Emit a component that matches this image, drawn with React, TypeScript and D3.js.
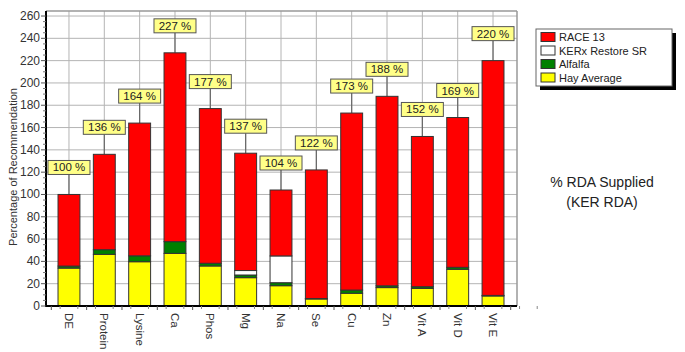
import React from "react";
import * as d3 from "d3";

const categories = ["DE", "Protein", "Lysine", "Ca", "Phos", "Mg", "Na", "Se", "Cu", "Zn", "Vit A", "Vit D", "Vit E"];
const hayAverage = [34, 46.3, 39.7, 47.2, 35.9, 25.4, 18.2, 6.3, 11.4, 16.5, 15.8, 32.9, 9];
const alfalfa = [1.8, 4.2, 5.3, 10.5, 2.4, 2.4, 2.7, 0.4, 2.9, 1.6, 1.5, 1.8, 0.5];
const kerxRestore = [0, 0, 0, 0, 0, 4, 24, 0, 0, 0, 0, 0, 0];
const race13 = [64.2, 85.5, 119, 169.3, 138.7, 105.2, 59.1, 115.3, 158.7, 169.9, 134.7, 134.3, 210.5];
const totalLabels = [100, 136, 164, 227, 177, 137, 104, 122, 173, 188, 152, 169, 220];
const yTicks = d3.range(0, 261, 20);

const seriesKeys = ["hay", "alfalfa", "kerx", "race"];
const seriesNames: Record<string, string> = {
  race: "RACE 13",
  kerx: "KERx Restore SR",
  alfalfa: "Alfalfa",
  hay: "Hay Average",
};
const seriesColors: Record<string, string> = {
  race: "#ff0000",
  kerx: "#ffffff",
  alfalfa: "#008000",
  hay: "#ffff00",
};
const legendOrder = ["race", "kerx", "alfalfa", "hay"];

const FONT = "'Liberation Sans', Arial, sans-serif";

export default function App() {
  const W = 685, H = 352;
  const left = 46, right = 517, top = 11, bottom = 306;

  const rows = categories.map((c, i) => ({
    cat: c,
    hay: hayAverage[i],
    alfalfa: alfalfa[i],
    kerx: kerxRestore[i],
    race: race13[i],
    total: totalLabels[i],
  }));

  const x = d3.scaleBand<string>().domain(categories).range([51.3, 510.7]).paddingInner(0.38).paddingOuter(0.19);
  const y = d3.scaleLinear().domain([0, 264.5]).range([bottom, top]);
  const stacked = d3.stack<any>().keys(seriesKeys)(rows);

  const bw = x.bandwidth();
  const step = x.step();
  const minorY = d3.range(0, 261, 5).filter((v) => v % 20 !== 0);

  return (
    <svg width={W} height={H} style={{ position: "absolute", left: 0, top: 0, fontFamily: FONT }}>
      <rect x={0} y={0} width={W} height={H} fill="#fff" />
      {yTicks.map((t) => (
        <line key={"gy" + t} x1={left} x2={right} y1={y(t)} y2={y(t)} stroke="#b4b4b4" strokeWidth={1} />
      ))}
      {categories.map((c) => (
        <line key={"gx" + c} x1={x(c)! + bw / 2} x2={x(c)! + bw / 2} y1={top} y2={bottom} stroke="#b4b4b4" strokeWidth={1} />
      ))}
      <line x1={left} x2={right} y1={top} y2={top} stroke="#999" strokeWidth={1.5} />
      <line x1={right} x2={right} y1={top} y2={bottom} stroke="#999" strokeWidth={1.5} />

      {rows.map((r) => {
        const cx = x(r.cat)! + bw / 2;
        const yt = y(r.total);
        const bh = 14, bwid = 42;
        const by = yt - 20 - bh;
        return (
          <g key={"lab" + r.cat}>
            <line x1={cx} x2={cx} y1={by + bh} y2={yt} stroke="#666" strokeWidth={1.2} />
            <rect x={cx - bwid / 2} y={by} width={bwid} height={bh} fill="#ffff88" stroke="#555" strokeWidth={1} />
            <text x={cx} y={by + bh / 2 + 4} textAnchor="middle" fontSize={11.5} fill="#222">
              {r.total} %
            </text>
          </g>
        );
      })}

      {stacked.map((s) => (
        <g key={s.key}>
          {s.map((d, i) => {
            const h = y(d[0]) - y(d[1]);
            if (h <= 0) return null;
            return (
              <rect
                key={i}
                x={x(categories[i])!}
                y={y(d[1])}
                width={bw}
                height={h}
                fill={seriesColors[s.key]}
                stroke="#333"
                strokeWidth={1}
              />
            );
          })}
        </g>
      ))}

      <line x1={left} x2={left} y1={top} y2={bottom + 1} stroke="#000" strokeWidth={2} />
      <line x1={left - 1} x2={right} y1={bottom} y2={bottom} stroke="#000" strokeWidth={2} />
      {yTicks.map((t) => (
        <g key={"yt" + t}>
          <line x1={left - 5} x2={left} y1={y(t)} y2={y(t)} stroke="#555" />
          <text x={left - 6} y={y(t) + 4} textAnchor="end" fontSize={12} fill="#333">
            {t}
          </text>
        </g>
      ))}
      {minorY.map((t) => (
        <line key={"my" + t} x1={left - 3} x2={left} y1={y(t)} y2={y(t)} stroke="#777" />
      ))}
      {d3.range(0, categories.length + 1).map((i) => {
        const bx = 51.3 + i * step;
        return (
          <g key={"xt" + i}>
            <line x1={bx} x2={bx} y1={bottom} y2={bottom + 4} stroke="#555" />
            <line x1={bx + step / 4} x2={bx + step / 4} y1={bottom} y2={bottom + 3} stroke="#888" />
            <line x1={bx + (3 * step) / 4} x2={bx + (3 * step) / 4} y1={bottom} y2={bottom + 3} stroke="#888" />
          </g>
        );
      })}
      {categories.map((c) => {
        const cx = x(c)! + bw / 2;
        return (
          <text
            key={"xl" + c}
            transform={`translate(${cx},${bottom + 7}) rotate(90)`}
            textAnchor="start"
            dy="0.35em"
            fontSize={11.5}
            fill="#333"
          >
            {c}
          </text>
        );
      })}
      <text transform={`translate(17,167) rotate(-90)`} textAnchor="middle" fontSize={11} fill="#333">
        Percentage of Recommendation
      </text>

      <rect x={540} y={33} width={136} height={57} fill="#000" />
      <rect x={536} y={29} width={136} height={57} fill="#fff" stroke="#666" strokeWidth={1} />
      {legendOrder.map((k, i) => {
        const cy = 37 + i * 13.5;
        return (
          <g key={"lg" + k}>
            <rect x={541} y={cy - 4.5} width={14} height={9} fill={seriesColors[k]} stroke="#333" strokeWidth={1} />
            <text x={559} y={cy + 4} fontSize={11} fill="#222">
              {seriesNames[k]}
            </text>
          </g>
        );
      })}

      <text x={602} y={187} textAnchor="middle" fontSize={14} fill="#222">
        % RDA Supplied
      </text>
      <text x={602} y={207} textAnchor="middle" fontSize={14} fill="#222">
        (KER RDA)
      </text>
    </svg>
  );
}
